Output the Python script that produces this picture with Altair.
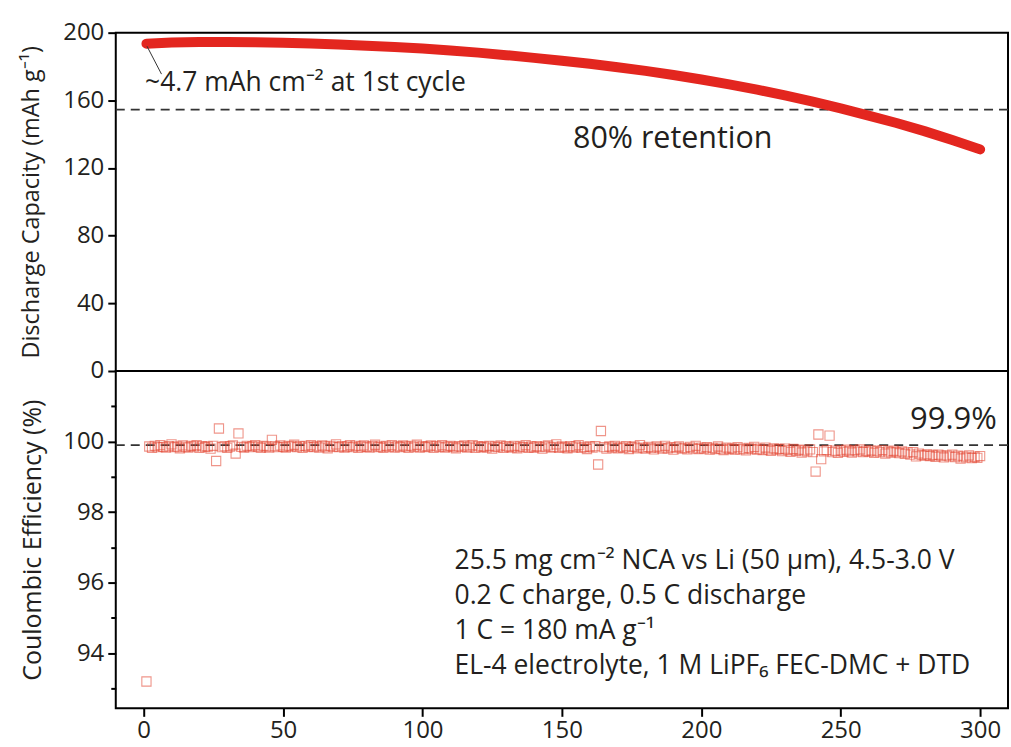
import altair as alt
import pandas as pd

# ---------------- data ----------------
cap_cycles = [1, 10, 20, 30, 40, 50, 60, 70, 80, 90, 100, 110, 120, 130, 140, 150,
              160, 170, 180, 190, 200, 210, 220, 230, 240, 250, 260, 270, 280, 290, 300]
capacity = [193.5, 194.2, 194.5, 194.5, 194.3, 194.0, 193.6, 193.0, 192.3, 191.5,
            190.6, 189.5, 188.2, 186.7, 185.1, 183.4, 181.6, 179.6, 177.4, 175.0,
            172.3, 169.4, 166.3, 162.9, 159.2, 155.2, 151.0, 146.6, 141.8, 136.6, 131.0]

ce_values = [
    93.2, 99.86, 99.82, 99.88, 99.84, 99.9, 99.85, 99.83, 99.87, 99.92,
    99.84, 99.86, 99.81, 99.89, 99.85, 99.83, 99.88, 99.86, 99.9, 99.82,
    99.87, 99.84, 99.86, 99.8, 99.88, 99.45, 100.37, 99.84, 99.87, 99.82,
    99.86, 99.89, 99.66, 100.23, 99.85, 99.83, 99.88, 99.84, 99.87, 99.9,
    99.85, 99.82, 99.88, 99.86, 99.83, 100.05, 99.87, 99.84, 99.89, 99.85,
    99.83, 99.88, 99.86, 99.91, 99.84, 99.87, 99.82, 99.88, 99.85, 99.9,
    99.84, 99.87, 99.83, 99.89, 99.86, 99.81, 99.88, 99.85, 99.92, 99.84,
    99.87, 99.83, 99.86, 99.9, 99.84, 99.88, 99.82, 99.86, 99.89, 99.85,
    99.83, 99.87, 99.91, 99.84, 99.86, 99.82, 99.88, 99.85, 99.9, 99.83,
    99.87, 99.84, 99.89, 99.86, 99.82, 99.88, 99.85, 99.91, 99.83, 99.87,
    99.84, 99.86, 99.89, 99.82, 99.87, 99.85, 99.9, 99.83, 99.86, 99.88,
    99.84, 99.81, 99.87, 99.85, 99.89, 99.83, 99.86, 99.9, 99.82, 99.87,
    99.84, 99.86, 99.83, 99.88, 99.8, 99.86, 99.84, 99.89, 99.82, 99.87,
    99.85, 99.83, 99.88, 99.81, 99.86, 99.84, 99.9, 99.82, 99.86, 99.83,
    99.87, 99.84, 99.8, 99.86, 99.89, 99.83, 99.85, 99.92, 99.82, 99.86,
    99.84, 99.81, 99.87, 99.83, 99.86, 99.9, 99.82, 99.85, 99.79, 99.86,
    99.83, 99.87, 99.35, 100.3, 99.84, 99.8, 99.86, 99.83, 99.88, 99.81,
    99.85, 99.82, 99.87, 99.79, 99.84, 99.86, 99.81, 99.9, 99.83, 99.8,
    99.85, 99.82, 99.78, 99.86, 99.83, 99.8, 99.88, 99.81, 99.84, 99.77,
    99.83, 99.86, 99.8, 99.82, 99.78, 99.85, 99.81, 99.88, 99.79, 99.83,
    99.8, 99.84, 99.77, 99.82, 99.79, 99.86, 99.8, 99.76, 99.83, 99.79,
    99.81, 99.77, 99.84, 99.78, 99.8, 99.75, 99.82, 99.79, 99.85, 99.77,
    99.8, 99.76, 99.83, 99.78, 99.74, 99.81, 99.77, 99.79, 99.73, 99.8,
    99.76, 99.71, 99.79, 99.74, 99.77, 99.69, 99.75, 99.72, 99.78, 99.7,
    99.15, 100.2, 99.5, 99.72, 99.76, 100.17, 99.7, 99.74, 99.68, 99.75,
    99.71, 99.77, 99.73, 99.69, 99.76, 99.72, 99.78, 99.7, 99.74, 99.71,
    99.75, 99.68, 99.73, 99.7, 99.76, 99.66, 99.72, 99.69, 99.74, 99.7,
    99.67, 99.72, 99.65, 99.69, 99.63, 99.7, 99.58, 99.66, 99.62, 99.6,
    99.64, 99.59, 99.62, 99.57, 99.63, 99.6, 99.55, 99.61, 99.58, 99.63,
    99.56, 99.6, 99.52, 99.58, 99.55, 99.61, 99.53, 99.57, 99.54, 99.59,
]
ce_cycles = list(range(1, len(ce_values) + 1))

x_ticks = [0, 50, 100, 150, 200, 250, 300]
cap_ticks = [0, 20, 40, 60, 80, 100, 120, 140, 160, 180, 200]   # labelled every 40
ce_ticks = [93, 94, 95, 96, 97, 98, 99, 100, 101]               # labelled every 2

retention_level = [154.5]
ce_level = [99.9]

top_texts = ["~4.7 mAh cm\u207b\u00b2 at 1st cycle", "80% retention"]
top_text_x = [0.5, 154]
top_text_y = [170, 137]

leader_x = [1.2]
leader_x2 = [6.4]
leader_y = [192.0]
leader_y2 = [175.5]

ce_label = ["99.9%"]
ce_label_x = [306]
ce_label_y = [100.62]

info_lines = [
    "25.5 mg cm\u207b\u00b2 NCA vs Li (50 \u00b5m), 4.5-3.0 V",
    "0.2 C charge, 0.5 C discharge",
    "1 C = 180 mA g\u207b\u00b9",
    "EL-4 electrolyte, 1 M LiPF\u2086 FEC-DMC + DTD",
]
info_x = [111.5, 111.5, 111.5, 111.5]
info_y = [96.62, 95.62, 94.63, 93.63]

# ---------------- styling ----------------
FONT = "Open Sans"
TXT = "#231f20"
RED = "#e3261f"
MARK_RED = "#e4432f"
W = 894
H_TOP = 339
H_BOT = 338
LABEL_SIZE = 24

xscale = alt.Scale(domain=[-10, 310], nice=False, zero=False)
cap_scale = alt.Scale(domain=[0, 200], nice=False, zero=False)
ce_scale = alt.Scale(domain=[92.44, 102], nice=False, zero=False)

# ---------------- top panel ----------------
cap_df = pd.DataFrame({"cycle": cap_cycles, "cap": capacity})

cap_line = alt.Chart(cap_df).mark_line(
    color=RED, strokeWidth=10, strokeCap="round", strokeJoin="round"
).encode(
    x=alt.X("cycle:Q", scale=xscale, axis=None),
    y=alt.Y("cap:Q", scale=cap_scale,
            axis=alt.Axis(values=cap_ticks,
                          labelExpr="datum.value % 40 === 0 ? datum.label : ''",
                          tickSize={"condition": {"test": "datum.value % 40 === 0", "value": 8}, "value": 5},
                          title="Discharge Capacity (mAh g\u207b\u00b9)", titleFontSize=23.5,
                          labelPadding=4, titlePadding=19)),
)

ret_rule = alt.Chart(pd.DataFrame({"y": retention_level})).mark_rule(
    color="#333333", strokeWidth=1.6, strokeDash=[9, 6]
).encode(y=alt.Y("y:Q", scale=cap_scale))

top_txt_df = pd.DataFrame({"x": top_text_x, "y": top_text_y, "t": top_texts})
top_txt1 = alt.Chart(top_txt_df.iloc[[0]]).mark_text(
    align="left", baseline="middle", font=FONT, fontSize=26.5, color=TXT
).encode(x=alt.X("x:Q", scale=xscale), y=alt.Y("y:Q", scale=cap_scale), text="t:N")
top_txt2 = alt.Chart(top_txt_df.iloc[[1]]).mark_text(
    align="left", baseline="middle", font=FONT, fontSize=30.5, color=TXT
).encode(x=alt.X("x:Q", scale=xscale), y=alt.Y("y:Q", scale=cap_scale), text="t:N")

leader = alt.Chart(pd.DataFrame({"x": leader_x, "x2": leader_x2, "y": leader_y, "y2": leader_y2})).mark_rule(
    color="#333333", strokeWidth=1
).encode(x=alt.X("x:Q", scale=xscale), x2="x2:Q", y=alt.Y("y:Q", scale=cap_scale), y2="y2:Q")

top = alt.layer(
    ret_rule, cap_line, leader, top_txt1, top_txt2
).properties(width=W, height=H_TOP)

# ---------------- bottom panel ----------------
ce_df = pd.DataFrame({"cycle": ce_cycles, "ce": ce_values})

ce_pts = alt.Chart(ce_df).mark_point(
    shape="square", filled=False, size=85, stroke=MARK_RED, strokeWidth=1.1, strokeOpacity=0.8
).encode(
    x=alt.X("cycle:Q", scale=xscale,
            axis=alt.Axis(values=x_ticks, title=None, tickSize=8, labelPadding=2)),
    y=alt.Y("ce:Q", scale=ce_scale,
            axis=alt.Axis(values=ce_ticks,
                          labelExpr="datum.value % 2 === 0 ? datum.label : ''",
                          tickSize={"condition": {"test": "datum.value % 2 === 0", "value": 8}, "value": 5},
                          title="Coulombic Efficiency (%)", titleFontSize=25,
                          labelPadding=4, titlePadding=17)),
)

ce_rule = alt.Chart(pd.DataFrame({"y": ce_level})).mark_rule(
    color="#333333", strokeWidth=1.6, strokeDash=[9, 6]
).encode(y=alt.Y("y:Q", scale=ce_scale))

ce_lab = alt.Chart(pd.DataFrame({"x": ce_label_x, "y": ce_label_y, "t": ce_label})).mark_text(
    align="right", baseline="middle", font=FONT, fontSize=31, color=TXT
).encode(x=alt.X("x:Q", scale=xscale), y=alt.Y("y:Q", scale=ce_scale), text="t:N")

info = alt.Chart(pd.DataFrame({"x": info_x, "y": info_y, "t": info_lines})).mark_text(
    align="left", baseline="middle", font=FONT, fontSize=26.5, color=TXT
).encode(x=alt.X("x:Q", scale=xscale), y=alt.Y("y:Q", scale=ce_scale), text="t:N")

bottom = alt.layer(
    ce_rule, ce_pts, ce_lab, info
).properties(width=W, height=H_BOT)

chart = alt.vconcat(top, bottom, spacing=0, bounds="flush").properties(
    padding={"left": 18, "top": 19, "right": 1, "bottom": 0},
    background="white",
).configure_view(
    stroke="black", strokeWidth=2
).configure_axis(
    grid=False, domain=False,
    tickColor="black", tickWidth=2,
    labelFont=FONT, labelFontSize=LABEL_SIZE, labelColor=TXT,
    titleFont=FONT, titleColor=TXT, titleFontWeight="normal",
)

chart.save("out.html", embed_options={"renderer": "svg", "actions": False})
